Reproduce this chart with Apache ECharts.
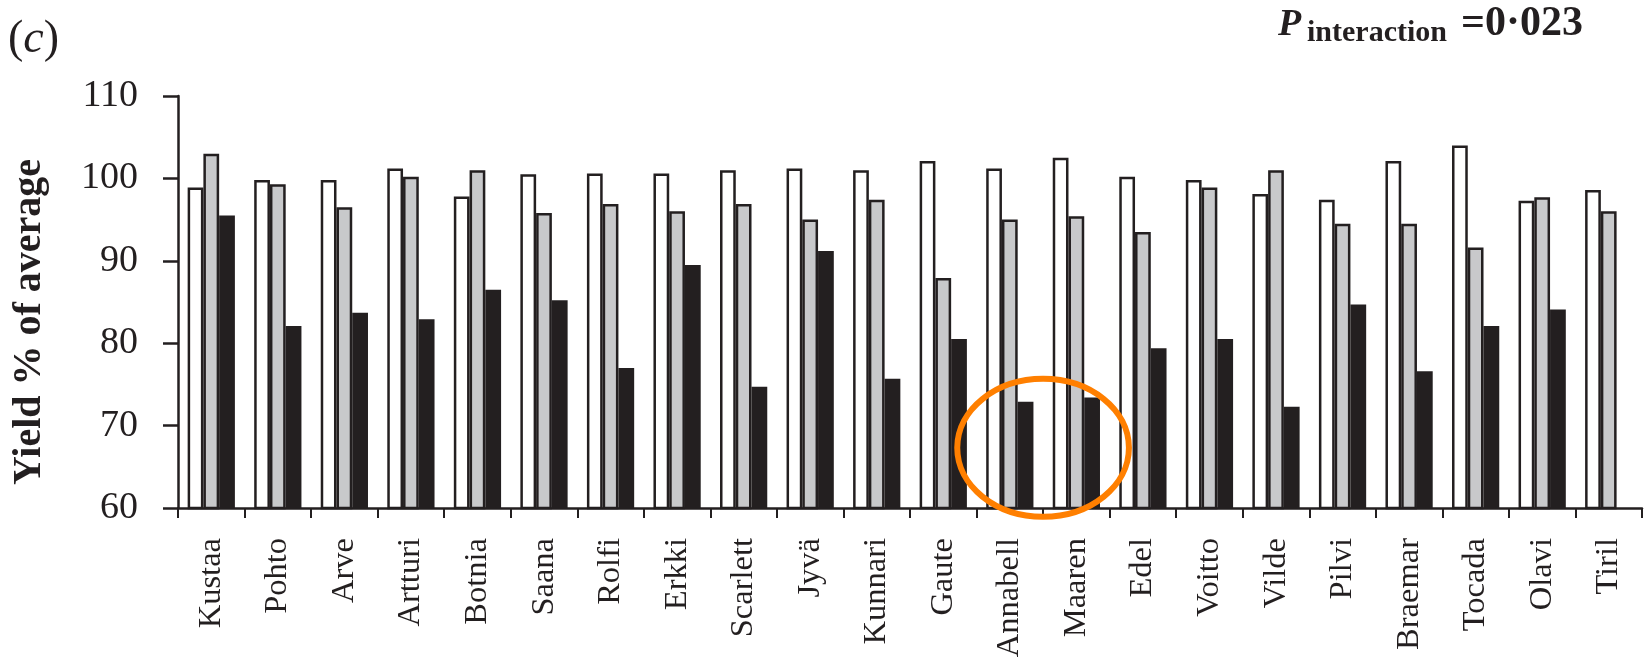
<!DOCTYPE html>
<html>
<head>
<meta charset="utf-8">
<script src="https://cdn.jsdelivr.net/npm/echarts@6/dist/echarts.min.js"></script>
<style>
  html, body { margin: 0; padding: 0; background: #ffffff; }
  #chart { width: 1649px; height: 658px; }
</style>
</head>
<body>
<div id="chart"></div>
<script>
// ---- data ----
const categories = ['Kustaa','Pohto','Arve','Artturi','Botnia','Saana','Rolfi','Erkki','Scarlett','Jyvä','Kunnari','Gaute','Annabell','Maaren','Edel','Voitto','Vilde','Pilvi','Braemar','Tocada','Olavi','Tiril'];
const whiteValues = [98.9, 99.8, 99.8, 101.2, 97.8, 100.5, 100.6, 100.6, 101.0, 101.2, 101.0, 102.1, 101.2, 102.5, 100.2, 99.8, 98.1, 97.4, 102.1, 104.0, 97.3, 98.6];
const greyValues  = [103.0, 99.3, 96.5, 100.2, 101.0, 95.8, 96.9, 96.0, 96.9, 95.0, 97.4, 87.9, 95.0, 95.4, 93.5, 98.9, 101.0, 94.5, 94.5, 91.6, 97.7, 96.0];
const blackValues = [95.5, 82.1, 83.7, 82.9, 86.5, 85.2, 77.0, 89.5, 74.7, 91.2, 75.7, 80.5, 72.9, 73.4, 79.4, 80.5, 72.3, 84.7, 76.6, 82.1, 84.1, null];
const yTicks = { min: 60, max: 110, interval: 10 };
const yAxisTitle = 'Yield % of average';
const panelLabel = 'c';
const pLabel = 'P';
const pSub = 'interaction';
const pValue = '=0·023';
const highlightPair = ['Annabell', 'Maaren'];

const INK = '#231f20';
const SERIF = '"Liberation Serif", "Times New Roman", serif';

const chart = echarts.init(document.getElementById('chart'), null, { renderer: 'canvas' });

function barSeries(name, data, fill, border) {
  return {
    name: name,
    type: 'bar',
    data: data,
    barGap: '0%',
    barCategoryGap: '29%',
    itemStyle: { color: fill, borderColor: border, borderWidth: border ? 2.5 : 0 },
    emphasis: { disabled: true },
    silent: true,
    animation: false
  };
}

const option = {
  animation: false,
  backgroundColor: '#ffffff',
  grid: { left: 178, right: 7, top: 96, bottom: 150, containLabel: false, outerBoundsMode: 'none' },
  xAxis: {
    type: 'category',
    data: categories,
    boundaryGap: true,
    axisLine: { show: true, lineStyle: { color: INK, width: 2.5 } },
    axisTick: { show: true, inside: false, length: 10, lineStyle: { color: INK, width: 2 } },
    axisLabel: { rotate: 90, margin: 30, fontSize: 32.5, fontFamily: SERIF, color: INK, interval: 0 },
    splitLine: { show: false }
  },
  yAxis: {
    type: 'value',
    min: yTicks.min,
    max: yTicks.max,
    interval: yTicks.interval,
    axisLine: { show: true, lineStyle: { color: INK, width: 2.5 } },
    axisTick: { show: true, inside: false, length: 15, lineStyle: { color: INK, width: 2.5 } },
    axisLabel: { margin: 40, fontSize: 38, fontFamily: SERIF, color: INK },
    splitLine: { show: false }
  },
  series: [
    barSeries('s1', whiteValues, '#ffffff', INK),
    barSeries('s2', greyValues, '#c8c9cb', INK),
    barSeries('s3', blackValues, INK, null)
  ]
};
chart.setOption(option);

// annotation placed relative to the axes
const i0 = categories.indexOf(highlightPair[0]);
const i1 = categories.indexOf(highlightPair[1]);
const p0 = chart.convertToPixel({ gridIndex: 0 }, [i0, 67.3]);
const p1 = chart.convertToPixel({ gridIndex: 0 }, [i1, 67.3]);
const band = p1[0] - p0[0];
const cx = (p0[0] + p1[0]) / 2;
const cy = p0[1];

chart.setOption({
  graphic: [
    {
      type: 'text', x: 30, y: 322, rotation: Math.PI / 2,
      style: { text: yAxisTitle, font: 'bold 40px ' + SERIF, fill: INK, align: 'center', verticalAlign: 'middle' }
    },
    {
      type: 'text', x: 8, y: 40,
      style: {
        text: '{n|(}{i|' + panelLabel + '}{n|)}',
        rich: {
          n: { font: '46px ' + SERIF, fill: INK },
          i: { font: 'italic 46px ' + SERIF, fill: INK }
        },
        verticalAlign: 'middle'
      }
    },
    {
      type: 'text', x: 1278, y: 25,
      style: { text: pLabel, font: 'italic bold 38px ' + SERIF, fill: INK, verticalAlign: 'middle' }
    },
    {
      type: 'text', x: 1307, y: 33,
      style: { text: pSub, font: 'bold 30px ' + SERIF, fill: INK, verticalAlign: 'middle' }
    },
    {
      type: 'text', x: 1461, y: 24,
      style: { text: pValue, font: 'bold 42px ' + SERIF, fill: INK, verticalAlign: 'middle' }
    },
    {
      type: 'ellipse',
      shape: { cx: cx, cy: cy, rx: band * 1.29, ry: 69 },
      style: { fill: 'none', stroke: '#ff7f00', lineWidth: 6 },
      z: 100
    }
  ]
});
</script>
</body>
</html>
